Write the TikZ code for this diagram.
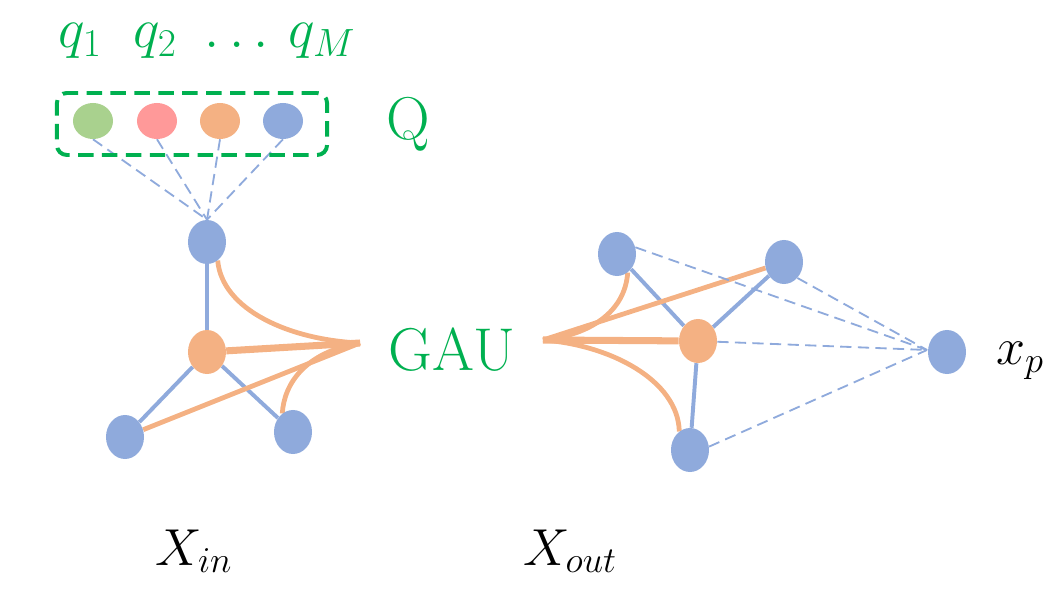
\RequirePackage{fix-cm}
\documentclass[tikz,border=0pt]{standalone}
\usetikzlibrary{shapes.geometric}
\definecolor{nblue}{HTML}{8FAADC}
\definecolor{norange}{HTML}{F4B183}
\definecolor{ngreen}{HTML}{A9D18E}
\definecolor{nred}{HTML}{FF9999}
\definecolor{tgreen}{HTML}{00B050}
\pgfdeclarelayer{bg}
\pgfsetlayers{bg,main}
\begin{document}
\begin{tikzpicture}[x=0.025cm,y=-0.025cm,
  vb/.style={ellipse, fill=nblue, inner sep=0pt, minimum width=0.95cm, minimum height=1.1cm},
  vo/.style={vb, fill=norange},
  qn/.style={ellipse, inner sep=0pt, minimum width=1cm, minimum height=0.9cm},
  bedge/.style={draw=nblue, line width=2.8pt},
  oedge/.style={draw=norange, line width=3.4pt},
  othick/.style={draw=norange, line width=5pt},
  dedge/.style={draw=nblue, line width=1.3pt, dash pattern=on 8pt off 4.5pt},
  glbl/.style={text=tgreen, inner sep=0pt, font=\fontsize{43}{50}\selectfont},
  qlbl/.style={text=tgreen, inner sep=0pt, anchor=base, font=\fontsize{40}{46}\selectfont},
  blbl/.style={inner sep=0pt, anchor=base, font=\fontsize{37}{44}\selectfont}]
\useasboundingbox (0,0) rectangle (1053,596);

% query set
\node (qbox) [draw=tgreen, line width=2.8pt, dash pattern=on 11pt off 6pt, rounded corners=7pt,
  minimum width=6.75cm, minimum height=1.55cm] at (192,124) {};
\node[qn, fill=ngreen] (q1) at (93,121) {};
\node[qn, fill=nred] (q2) at (157,121) {};
\node[qn, fill=norange] (q3) at (220,121) {};
\node[qn, fill=nblue] (q4) at (283,121) {};
\node[qlbl] (lq1) at (80,48) {$q_1$};
\node[qlbl] (lq2) at (155,48) {$q_2$};
\node[qlbl] (ldots) at (237,48) {$\dots$};
\node[qlbl] (lqM) at (322,48) {$q_M$};
\node[glbl] (lQ) at (408,124) {Q};

% input graph
\node[vb] (lt) at (207,242) {};
\node[vo] (lc) at (207,352) {};
\node[vb] (ll) at (125,437) {};
\node[vb] (lr) at (293,432) {};

% GAU
\node[glbl] (gau) at (452,350) {GAU};
\coordinate (gL) at (360,343);
\coordinate (gR) at (543,340);

% output graph
\node[vb] (rtl) at (617,254) {};
\node[vb] (rtr) at (784,262) {};
\node[vo] (rc) at (698,341) {};
\node[vb] (rb) at (690,450) {};
\node[vb] (xp) at (947,352) {};
\coordinate (xpc) at (927,350);

% labels
\node[blbl] (xin) at (194,565) {$X_{in}$};
\node[blbl] (xout) at (570,565) {$X_{out}$};
\node[blbl, anchor=base west] (lxp) at (996,365) {$x_p$};

\begin{pgfonlayer}{bg}
  % dashed query links
  \foreach \q in {q1,q2,q3,q4} \draw[dedge] (\q.south) -- (lt.north);
  % input graph edges
  \draw[bedge] (lt) -- (lc);
  \draw[bedge] (lc) -- (ll);
  \draw[bedge] (lc) -- (lr);
  % GAU links (input)
  \draw[othick] (lc) -- (gL);
  \draw[oedge] (ll) -- (gL);
  \draw[oedge] (lt.-60) .. controls (222,310) and (290,340) .. (gL);
  \draw[oedge] (lr.120) .. controls (284,384) and (305,352) .. (gL);
  % output graph edges
  \draw[bedge] (rtl) -- (rc);
  \draw[bedge] (rtr) -- (rc);
  \draw[bedge] (rc) -- (rb);
  % GAU links (output)
  \draw[othick] (gR) -- (rc);
  \draw[oedge] (gR) -- (rtr);
  \draw[oedge] (gR) .. controls (590,335) and (625,312) .. (rtl.-60);
  \draw[oedge] (gR) .. controls (610,345) and (678,380) .. (rb.120);
  % dashed links to x_p
  \draw[dedge] (rtl.20) -- (xpc);
  \draw[dedge] (rtr.-50) -- (xpc);
  \draw[dedge] (rc) -- (xpc);
  \draw[dedge] (rb.10) -- (xpc);
\end{pgfonlayer}
\end{tikzpicture}
\end{document}
